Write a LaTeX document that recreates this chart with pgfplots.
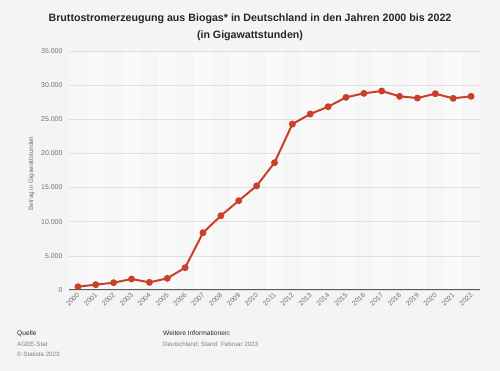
\documentclass[border=0pt]{standalone}
\usepackage{pgfplots}
\pgfplotsset{compat=1.18}
\usepackage{fontspec}
\setmainfont{Liberation Sans}
\definecolor{bg}{HTML}{F4F4F4}
\definecolor{band}{HTML}{FAFAFA}
\definecolor{band2}{HTML}{F6F6F6}
\definecolor{linec}{HTML}{C8402A}
\definecolor{tickc}{HTML}{707070}
\begin{document}
\begin{tikzpicture}
\fill[bg] (0,0) rectangle (500bp,371bp);
\fill[band2] (69bp,81bp) rectangle (480bp,320bp);
\foreach \i in {1,3,...,21} {
  \fill[band] ({(69+\i*17.8696)*1bp},81bp) rectangle ++(17.8696bp,239bp);
}
\node[font=\bfseries\fontsize{10.7}{17}\selectfont, align=center, text=black!85] at (250bp,343.5bp) {Bruttostromerzeugung aus Biogas* in Deutschland in den Jahren 2000 bis 2022\\(in Gigawattstunden)};
\begin{axis}[
  at={(69bp,81bp)}, anchor=south west,
  scale only axis, width=411bp, height=239bp,
  xmin=-0.5, xmax=22.5, ymin=0, ymax=35000,
  axis line style={draw=none},
  xtick={0,...,22},
  xticklabels={2000,2001,2002,2003,2004,2005,2006,2007,2008,2009,2010,2011,2012,2013,2014,2015,2016,2017,2018,2019,2020,2021,2022},
  ytick={0,5000,10000,15000,20000,25000,30000,35000},
  major tick length=0pt,
  ymajorgrids, grid style={draw=black!12, line width=0.5bp},
  xticklabel style={rotate=45, anchor=east, font=\fontsize{7}{8}\selectfont, text=tickc, yshift=-3bp, xshift=1bp},
  yticklabel style={font=\fontsize{7}{8}\selectfont, text=tickc, xshift=-3bp, /pgf/number format/1000 sep={.}, /pgf/number format/assume math mode=true},
  scaled y ticks=false,
  ylabel={Betrag in Gigawattstunden},
  ylabel style={font=\fontsize{6.3}{7}\selectfont, text=tickc, xshift=-3bp},
  clip=false,
]
\draw[black!65, line width=1bp] (axis cs:-0.5,0) -- (axis cs:22.5,0);
\addplot[linec, line width=2bp, mark=*, mark size=2.4bp, mark options={fill=linec, draw=linec}] coordinates {
(0,480) (1,780) (2,1070) (3,1610) (4,1120) (5,1710) (6,3270) (7,8390) (8,10880) (9,13080)
(10,15250) (11,18640) (12,24300) (13,25770) (14,26840) (15,28210) (16,28800) (17,29140)
(18,28360) (19,28110) (20,28740) (21,28070) (22,28360)
};
\end{axis}
\begin{scope}[every node/.style={inner sep=0pt, anchor=base west}]
\node[font=\fontsize{6.7}{8}\selectfont, text=black!85] at (17bp,36bp) {Quelle};
\node[font=\fontsize{6.2}{7}\selectfont, text=black!50] at (17bp,25bp) {AGEE-Stat};
\node[font=\fontsize{6.2}{7}\selectfont, text=black!50] at (17bp,14.5bp) {\textcopyright{} Statista 2023};
\node[font=\fontsize{6.7}{8}\selectfont, text=black!85] at (163bp,36bp) {Weitere Informationen:};
\node[font=\fontsize{6.2}{7}\selectfont, text=black!50] at (163bp,25bp) {Deutschland; Stand: Februar 2023};
\end{scope}
\pgfresetboundingbox
\useasboundingbox (0,0) rectangle (500bp,371bp);
\end{tikzpicture}
\end{document}
